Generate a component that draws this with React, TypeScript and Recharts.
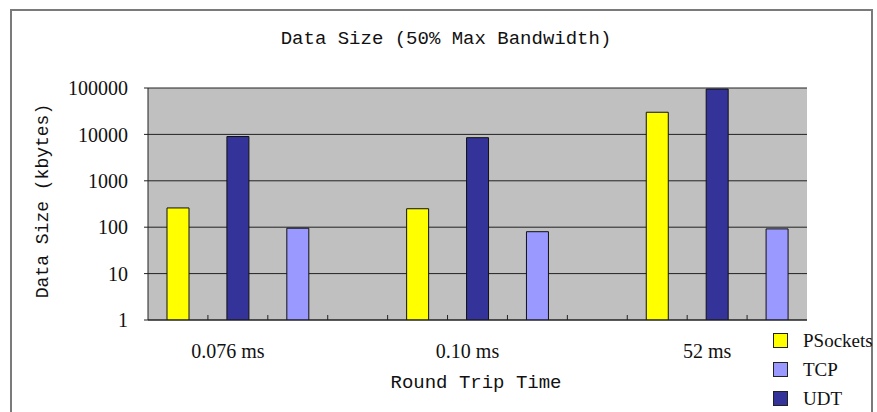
import React from "react";
import { BarChart, Bar, Cell, XAxis, YAxis, CartesianGrid } from "recharts";

const rtts = ["0.076 ms", "0.10 ms", "52 ms"];
const barOrder = ["PSockets", "UDT", "TCP"];
const legendOrder = ["PSockets", "TCP", "UDT"];
const psockets = [260, 250, 30000];
const udt = [9000, 8500, 95000];
const tcp = [95, 80, 92];
const yTicks = [1, 10, 100, 1000, 10000, 100000];

const COLORS: Record<string, string> = {
  PSockets: "#FFFF00",
  TCP: "#9999FF",
  UDT: "#333399",
};
const PLOT_BG = "#C0C0C0";
const SERIF = "'Liberation Serif', 'Times New Roman', serif";
const MONO = "'Liberation Mono', 'DejaVu Sans Mono', monospace";

const seriesValues: Record<string, number[]> = { PSockets: psockets, UDT: udt, TCP: tcp };

// one slot per bar, an empty slot between round-trip groups
const rows: { slot: string; protocol: string | null; value: number | null; label: string }[] = [];
rtts.forEach((rtt, g) => {
  barOrder.forEach((p, i) => {
    rows.push({ slot: `${g}-${p}`, protocol: p, value: seriesValues[p][g], label: i === 1 ? rtt : "" });
  });
  if (g < rtts.length - 1) rows.push({ slot: `gap-${g}`, protocol: null, value: null, label: "" });
});

const TICK_MARGIN = 20;

function XTick(props: any) {
  const { x, y, payload, index } = props;
  const axisY = y - TICK_MARGIN;
  const half = payload && typeof payload.offset === "number" && payload.offset > 0 ? payload.offset : 30;
  const row = rows[index];
  return (
    <g>
      {index < rows.length - 1 && (
        <line x1={x + half} x2={x + half} y1={axisY} y2={axisY - 5} stroke="#222" />
      )}
      {row && row.label && (
        <text x={x - 10} y={axisY + 31} textAnchor="middle" dominantBaseline="central" fontFamily={SERIF} fontSize={20} fill="#111">
          {row.label}
        </text>
      )}
    </g>
  );
}

export default function App() {
  return (
    <div style={{ position: "relative", width: 877, height: 412, overflow: "hidden", background: "#fff" }}>
      <style>{`body{margin:0}`}</style>
      <div
        style={{
          position: "absolute",
          left: 10,
          top: 9,
          width: 863,
          height: 420,
          border: "2px solid #7a7a7a",
          boxSizing: "border-box",
        }}
      />
      <div style={{ position: "absolute", left: 0, width: 892, top: 28, textAlign: "center", fontFamily: MONO, fontSize: 19, color: "#111" }}>
        Data Size (50% Max Bandwidth)
      </div>
      <div
        style={{
          position: "absolute",
          left: 43,
          top: 201,
          transform: "translate(-50%, -50%) rotate(-90deg)",
          whiteSpace: "nowrap",
          fontFamily: MONO,
          fontSize: 18,
          color: "#111",
        }}
      >
        Data Size (kbytes)
      </div>
      <div style={{ position: "absolute", left: 376, width: 200, top: 372, textAlign: "center", fontFamily: MONO, fontSize: 19, color: "#111" }}>
        Round Trip Time
      </div>
      <BarChart width={877} height={412} data={rows} margin={{ top: 88, right: 70, left: 88, bottom: 32 }} barSize={22}>
        <CartesianGrid vertical={false} stroke="#222" fill={PLOT_BG} fillOpacity={1} />
        <XAxis
          dataKey="slot"
          height={60}
          interval={0}
          tickLine={false}
          tickSize={0}
          tickMargin={TICK_MARGIN}
          axisLine={{ stroke: "#222" }}
          tick={<XTick />}
        />
        <YAxis
          type="number"
          scale="log"
          domain={[1, 100000]}
          ticks={yTicks}
          allowDataOverflow
          width={60}
          tickSize={4}
          tickMargin={16}
          axisLine={{ stroke: "#222" }}
          tickLine={{ stroke: "#222" }}
          tick={{ fontFamily: SERIF, fontSize: 20, fill: "#111" }}
        />
        <Bar dataKey="value" isAnimationActive={false} stroke="#111" strokeWidth={1}>
          {rows.map((r) => (
            <Cell key={r.slot} fill={r.protocol ? COLORS[r.protocol] : "none"} />
          ))}
        </Bar>
      </BarChart>
      <div style={{ position: "absolute", left: 773, top: 326 }}>
        {legendOrder.map((p) => (
          <div key={p} style={{ display: "flex", alignItems: "center", height: 29 }}>
            <span style={{ width: 13, height: 13, background: COLORS[p], border: "1px solid #222", display: "inline-block" }} />
            <span style={{ marginLeft: 15, fontFamily: SERIF, fontSize: 19, lineHeight: "22px", color: "#111" }}>{p}</span>
          </div>
        ))}
      </div>
    </div>
  );
}
